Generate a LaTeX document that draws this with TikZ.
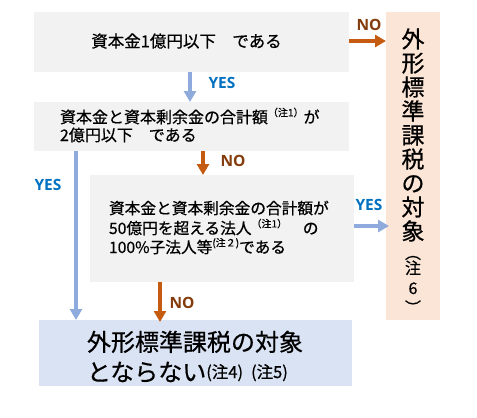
\documentclass[tikz,border=0pt]{standalone}
\usepackage{fontspec}
\setmainfont{Noto Sans CJK JP}[FakeBold=0.6]
\newfontfamily\labfont{Open Sans}
\usetikzlibrary{arrows.meta}
\definecolor{boxgray}{HTML}{F2F2F2}
\definecolor{boxpeach}{HTML}{FBE5D6}
\definecolor{boxblue}{HTML}{DAE3F3}
\definecolor{arrorange}{HTML}{C55A11}
\definecolor{arrblue}{HTML}{8FAADC}
\definecolor{labno}{HTML}{843C0C}
\definecolor{labyes}{HTML}{0070C0}
\newcommand{\chu}[2][10]{\raisebox{0.42em}{\fontsize{#1}{#1}\selectfont #2}}
\begin{document}
\begin{tikzpicture}[x=1pt,y=-1pt,
  panel/.style={draw=none,inner sep=0pt,outer sep=0pt},
  txt/.style={inner sep=0pt,outer sep=0pt,text=black},
  noarrow/.style={draw=arrorange,line width=3.5pt,-{Triangle[length=11pt,width=12pt]}},
  yesarrow/.style={draw=arrblue,line width=3.5pt,-{Triangle[length=11pt,width=12pt]}},
  nolab/.style={font=\labfont\bfseries\fontsize{15.5}{15.5}\selectfont,text=labno,inner sep=0pt},
  yeslab/.style={font=\labfont\bfseries\fontsize{15.5}{15.5}\selectfont,text=labyes,inner sep=0pt}]
\useasboundingbox (0,0) rectangle (477,418);

% panels
\node[panel,fill=boxgray,minimum width=315pt,minimum height=60pt] (b1) at (191.5,42) {};
\node[panel,fill=boxpeach,minimum width=54pt,minimum height=308pt] (rb) at (413,166) {};
\node[panel,fill=boxgray,minimum width=315pt,minimum height=49pt] (b2) at (191.5,126.5) {};
\node[panel,fill=boxgray,minimum width=264pt,minimum height=107pt] (b3) at (222,228.5) {};
\node[panel,fill=boxblue,minimum width=313pt,minimum height=66pt] (bot) at (195.5,353) {};

% texts
\node[txt,anchor=base,font=\fontsize{16.5}{16.5}\selectfont] (t1) at (186.5,47.3) {資本金1億円以下　である};

\node[txt,anchor=base west,font=\fontsize{16}{16}\selectfont] (t2a) at (60,123) {資本金と資本剰余金の合計額\chu{（注1）}が};
\node[txt,anchor=base west,font=\fontsize{16}{16}\selectfont] (t2b) at (60,141) {2億円以下　である};

\node[txt,anchor=base west,font=\fontsize{15.7}{15.7}\selectfont] (t3a) at (109,214) {資本金と資本剰余金の合計額が};
\node[txt,anchor=base west,font=\fontsize{15.7}{15.7}\selectfont] (t3b) at (109,234) {50億円を超える法人\chu{（注1）}　の};
\node[txt,anchor=base west,font=\fontsize{15.7}{15.7}\selectfont] (t3c) at (109,253) {100\%子法人等\chu{(注２)}である};

\node[txt,anchor=base west,font=\fontsize{24}{24}\selectfont] (t4a) at (87,351) {外形標準課税の対象};
\node[txt,anchor=base west,font=\fontsize{24}{24}\selectfont] (t4b) at (87,381) {とならない\raisebox{3pt}{\fontsize{16.5}{16.5}\selectfont (注4)\hspace{8pt}(注5)}};

% vertical text in right box
\foreach \ch [count=\k from 0] in {外,形,標,準,課,税,の,対,象}{
  \node[txt,anchor=base,font=\fontsize{23}{23}\selectfont] (v\k) at (413,47.7+24*\k) {\ch};
}
\node[txt,anchor=center,font=\fontsize{16}{16}\selectfont] (vp1) at (413,258) {︵};
\node[txt,anchor=base,font=\fontsize{16}{16}\selectfont] (vn) at (413,274) {注};
\node[txt,anchor=base,font=\fontsize{16}{16}\selectfont] (v6) at (413,294) {6};
\node[txt,anchor=center,font=\fontsize{16}{16}\selectfont] (vp2) at (413,307) {︶};

% connectors
\draw[noarrow] (b1.east |- 0,41) -- (rb.west |- 0,41);
\coordinate (c0) at (190,72);
\draw[yesarrow] (c0) -- (c0 |- b2.north);
\coordinate (c1) at ([xshift=42pt]b2.south west);
\draw[yesarrow] (c1) -- (c1 |- bot.north);
\coordinate (c2) at ([xshift=169pt]b2.south west);
\draw[noarrow] (c2) -- (c2 |- b3.north);
\coordinate (c3) at (b3.east |- 0,226);
\draw[yesarrow] (c3) -- ([xshift=3pt]rb.west |- c3);
\coordinate (c4) at ([xshift=70pt]b3.south west);
\draw[noarrow] (c4) -- ([yshift=-2pt]c4 |- bot.north);

% labels
\node[nolab] (l1) at (369,25) {NO};
\node[yeslab] (l2) at (222,83) {YES};
\node[yeslab] (l3) at (48,185) {YES};
\node[nolab] (l4) at (233,161) {NO};
\node[yeslab] (l5) at (369,205) {YES};
\node[nolab] (l6) at (182,303) {NO};
\end{tikzpicture}
\end{document}
